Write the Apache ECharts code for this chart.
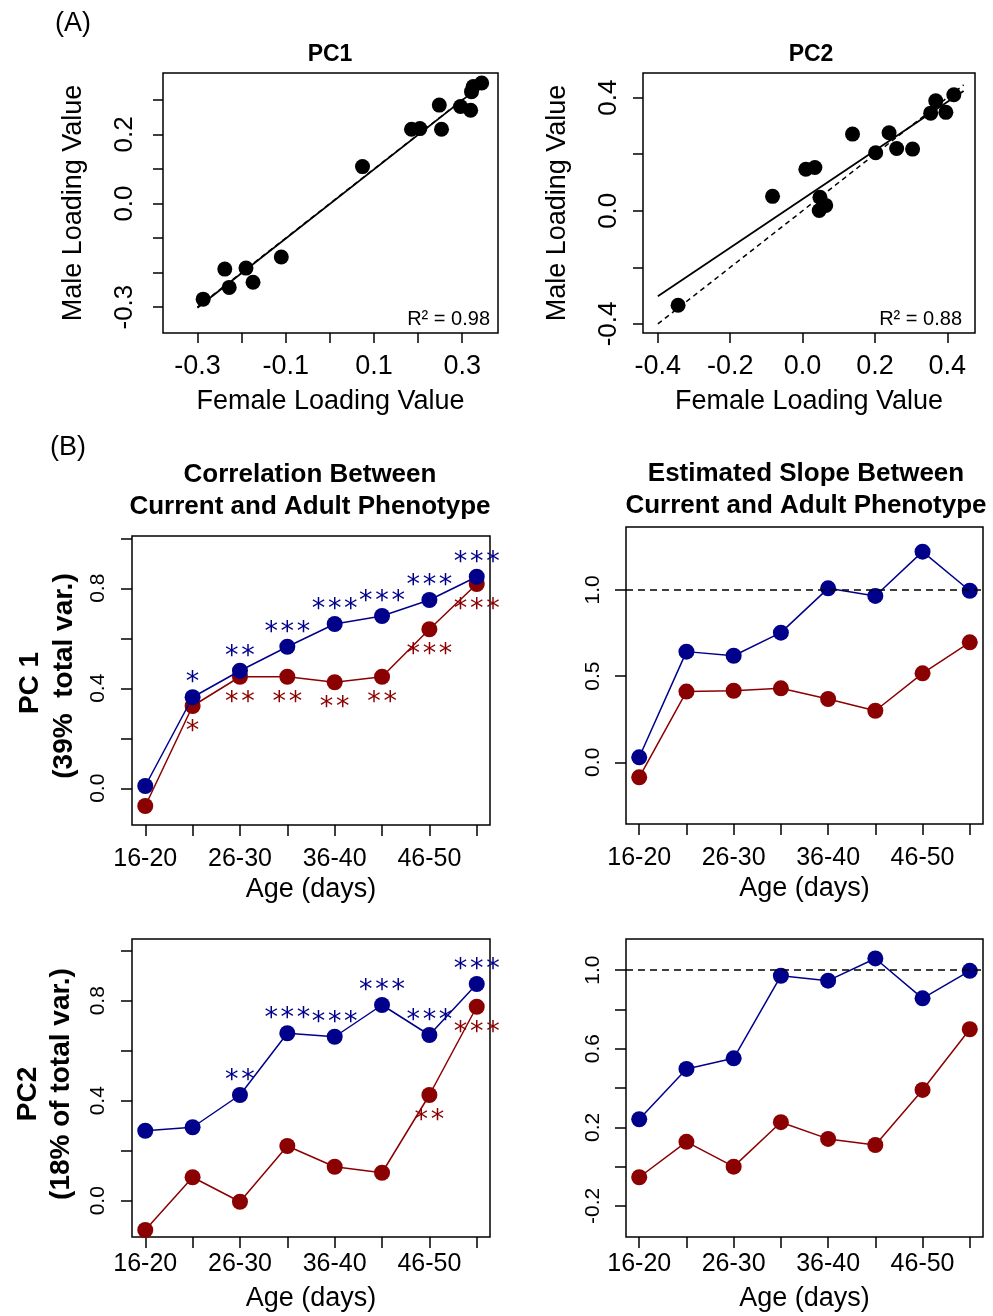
<!DOCTYPE html>
<html>
<head>
<meta charset="utf-8">
<script src="https://cdn.jsdelivr.net/npm/echarts@6/dist/echarts.min.js"></script>
<style>
  html, body { margin: 0; padding: 0; background: #fff; }
  #chart { width: 993px; height: 1316px; }
</style>
</head>
<body>
<div id="chart"></div>
<script>
// ---- (A) loadings: female (x) vs male (y) ----
const pc1Female = [-0.287, -0.238, -0.228, -0.190, -0.174, -0.110, 0.074, 0.185, 0.204, 0.248, 0.253, 0.296, 0.319, 0.321, 0.325, 0.344];
const pc1Male   = [-0.277, -0.190, -0.243, -0.187, -0.228, -0.155, 0.107, 0.215, 0.217, 0.285, 0.215, 0.281, 0.270, 0.324, 0.339, 0.349];
const pc2Female = [-0.344, -0.083, 0.009, 0.034, 0.048, 0.064, 0.046, 0.138, 0.202, 0.239, 0.260, 0.304, 0.354, 0.368, 0.396, 0.418];
const pc2Male   = [-0.334, 0.051, 0.147, 0.153, 0.048, 0.019, 0.001, 0.271, 0.205, 0.276, 0.220, 0.218, 0.345, 0.389, 0.348, 0.410];
const pc1R2 = '0.98';
const pc2R2 = '0.88';
const pc1LineRange = [-0.30, 0.34];
const pc2LineRange = [-0.40, 0.445];
const pc1Ticks = [-0.3, -0.2, -0.1, 0.0, 0.1, 0.2, 0.3];
const pc1XLabels = [-0.3, -0.1, 0.1, 0.3];
const pc1YLabels = [-0.3, 0.0, 0.2];
const pc2Ticks = [-0.4, -0.2, 0.0, 0.2, 0.4];
const pc2YLabels = [-0.4, 0.0, 0.4];

// ---- (B) age classes ----
const ageLabels = ['16-20', '21-25', '26-30', '31-35', '36-40', '41-45', '46-50', '51-55'];
const agePos = [1, 2, 3, 4, 5, 6, 7, 8];
const ageLabelPos = [1, 3, 5, 7];

const corrPC1Blue  = [0.009, 0.364, 0.470, 0.566, 0.657, 0.689, 0.753, 0.846];
const corrPC1Red   = [-0.071, 0.329, 0.446, 0.446, 0.424, 0.446, 0.636, 0.817];
const slopePC1Blue = [0.029, 0.642, 0.618, 0.752, 1.009, 0.965, 1.222, 0.995];
const slopePC1Red  = [-0.087, 0.410, 0.415, 0.429, 0.367, 0.299, 0.516, 0.696];
const corrPC2Blue  = [0.280, 0.294, 0.423, 0.670, 0.656, 0.783, 0.663, 0.867];
const corrPC2Red   = [-0.117, 0.094, -0.004, 0.219, 0.136, 0.112, 0.423, 0.776];
const slopePC2Blue = [0.241, 0.497, 0.551, 0.971, 0.946, 1.059, 0.856, 0.996];
const slopePC2Red  = [-0.054, 0.126, 0.000, 0.226, 0.141, 0.110, 0.390, 0.699];

const corrPC1BlueStars = ['', '*', '**', '***', '***', '***', '***', '***'];
const corrPC1RedStars  = ['', '*', '**', '**', '**', '**', '***', '***'];
const corrPC2BlueStars = ['', '', '**', '***', '***', '***', '***', '***'];
const corrPC2RedStars  = ['', '', '', '', '', '', '**', '***'];

const corrTicks = [0.0, 0.2, 0.4, 0.6, 0.8, 1.0];
const corrLabels = [0.0, 0.4, 0.8];
const slopePC1Ticks = [0.0, 0.5, 1.0];
const slopePC2Ticks = [-0.2, 0.0, 0.2, 0.4, 0.6, 0.8, 1.0];
const slopePC2Labels = [-0.2, 0.2, 0.6, 1.0];

// ---- styling ----
const FONT = '"Liberation Sans", Arial, sans-serif';
const BLUE = '#00008B';
const RED = '#8B0000';
const INK = '#000';

function olsLine(xs, ys, range) {
  const n = xs.length;
  const mx = xs.reduce((a, b) => a + b, 0) / n;
  const my = ys.reduce((a, b) => a + b, 0) / n;
  let sxy = 0, sxx = 0;
  for (let i = 0; i < n; i++) { sxy += (xs[i] - mx) * (ys[i] - my); sxx += (xs[i] - mx) ** 2; }
  const b = sxy / sxx, a = my - b * mx;
  return range.map(x => [x, a + b * x]);
}

const fmt1 = v => (Math.abs(v) < 1e-9 ? 0 : v).toFixed(1);
// significance stars, set slightly apart with hair spaces
const spaced = s => s.split('').join('\u200A');

function axis(o) {
  return {
    type: 'value', gridIndex: o.grid, min: o.min, max: o.max,
    axisLine: { show: false, onZero: false }, splitLine: { show: false },
    axisTick: { show: true, inside: false, length: o.tickLen, lineStyle: { color: INK, width: 1.5 }, customValues: o.ticks },
    axisLabel: {
      customValues: o.labels, formatter: o.formatter || fmt1, rotate: o.rotate || 0,
      fontFamily: FONT, fontSize: o.labelSize, color: INK, margin: o.margin
    },
    name: o.name || '', nameLocation: 'middle', nameGap: o.nameGap,
    nameTextStyle: { fontFamily: FONT, fontSize: o.nameSize, color: INK }
  };
}

const grids = [
  { left: 163, top: 73, width: 335, height: 260 },
  { left: 643, top: 73, width: 332, height: 260 },
  { left: 132, top: 536, width: 358, height: 289 },
  { left: 626, top: 527, width: 357, height: 297 },
  { left: 132, top: 939, width: 358, height: 298 },
  { left: 626, top: 939, width: 357, height: 298 }
].map(g => Object.assign({ show: true, borderColor: INK, borderWidth: 1.5, backgroundColor: 'transparent' }, g));

const ageFmt = v => ageLabels[Math.round(v) - 1];

const xAxes = [
  axis({ grid: 0, min: -0.378, max: 0.381, ticks: pc1Ticks, labels: pc1XLabels, tickLen: 10, labelSize: 27, margin: 20,
         name: 'Female Loading Value', nameGap: 55, nameSize: 27 }),
  axis({ grid: 1, min: -0.441, max: 0.4765, ticks: pc2Ticks, labels: pc2Ticks, tickLen: 10, labelSize: 27, margin: 20,
         name: 'Female Loading Value', nameGap: 55, nameSize: 27 }),
  axis({ grid: 2, min: 0.72, max: 8.28, ticks: agePos, labels: ageLabelPos, formatter: ageFmt, tickLen: 11, labelSize: 25, margin: 22,
         name: 'Age (days)', nameGap: 51, nameSize: 27 }),
  axis({ grid: 3, min: 0.72, max: 8.28, ticks: agePos, labels: ageLabelPos, formatter: ageFmt, tickLen: 11, labelSize: 25, margin: 22,
         name: 'Age (days)', nameGap: 51, nameSize: 27 }),
  axis({ grid: 4, min: 0.72, max: 8.28, ticks: agePos, labels: ageLabelPos, formatter: ageFmt, tickLen: 11, labelSize: 25, margin: 15,
         name: 'Age (days)', nameGap: 48, nameSize: 27 }),
  axis({ grid: 5, min: 0.72, max: 8.28, ticks: agePos, labels: ageLabelPos, formatter: ageFmt, tickLen: 11, labelSize: 25, margin: 15,
         name: 'Age (days)', nameGap: 48, nameSize: 27 })
];

const yAxes = [
  axis({ grid: 0, min: -0.375, max: 0.378, ticks: pc1Ticks, labels: pc1YLabels, rotate: 90, tickLen: 10, labelSize: 26, margin: 25,
         name: 'Male Loading Value', nameGap: 76, nameSize: 27 }),
  axis({ grid: 1, min: -0.432, max: 0.487, ticks: pc2Ticks, labels: pc2YLabels, rotate: 90, tickLen: 10, labelSize: 26, margin: 21,
         name: 'Male Loading Value', nameGap: 72, nameSize: 27 }),
  axis({ grid: 2, min: -0.147, max: 1.009, ticks: corrTicks, labels: corrLabels, rotate: 90, tickLen: 11, labelSize: 21, margin: 23 }),
  axis({ grid: 3, min: -0.358, max: 1.365, ticks: slopePC1Ticks, labels: slopePC1Ticks, rotate: 90, tickLen: 11, labelSize: 21, margin: 22 }),
  axis({ grid: 4, min: -0.145, max: 1.047, ticks: corrTicks, labels: corrLabels, rotate: 90, tickLen: 11, labelSize: 21, margin: 23 }),
  axis({ grid: 5, min: -0.358, max: 1.158, ticks: slopePC2Ticks, labels: slopePC2Labels, rotate: 90, tickLen: 11, labelSize: 21, margin: 22 })
];

function scatterSeries(idx, xs, ys) {
  return {
    type: 'scatter', xAxisIndex: idx, yAxisIndex: idx, symbolSize: 15,
    itemStyle: { color: INK, opacity: 1 }, z: 3,
    data: xs.map((x, i) => [x, ys[i]])
  };
}
function refLine(idx, pts, dashed) {
  return {
    type: 'line', xAxisIndex: idx, yAxisIndex: idx, showSymbol: false, silent: true, z: 2,
    lineStyle: { color: INK, width: dashed ? 1.5 : 1.8, type: dashed ? [5, 4] : 'solid' },
    data: pts
  };
}

function trendSeries(idx, values, color, stars, above, refOne) {
  const s = {
    type: 'line', xAxisIndex: idx, yAxisIndex: idx,
    symbol: 'circle', symbolSize: 16, z: above ? 4 : 3,
    itemStyle: { color: color, opacity: 1 },
    lineStyle: { color: color, width: 1.5 },
    data: values.map((v, i) => [agePos[i], v])
  };
  if (stars) {
    s.label = {
      show: true, position: 'inside', offset: [0, above ? -14 : 26],
      formatter: p => spaced(stars[p.dataIndex]),
      fontFamily: '"DejaVu Sans", sans-serif', fontSize: 27, color: color
    };
  }
  if (refOne) {
    s.markLine = {
      silent: true, symbol: 'none', label: { show: false },
      lineStyle: { color: INK, width: 1.5, type: [7, 5] },
      data: [{ yAxis: 1 }]
    };
  }
  return s;
}

const series = [
  refLine(0, pc1LineRange.map(x => [x, x]), true),
  refLine(0, olsLine(pc1Female, pc1Male, pc1LineRange), false),
  scatterSeries(0, pc1Female, pc1Male),
  refLine(1, pc2LineRange.map(x => [x, x]), true),
  refLine(1, olsLine(pc2Female, pc2Male, pc2LineRange), false),
  scatterSeries(1, pc2Female, pc2Male),

  trendSeries(2, corrPC1Red, RED, corrPC1RedStars, false),
  trendSeries(2, corrPC1Blue, BLUE, corrPC1BlueStars, true),
  trendSeries(3, slopePC1Red, RED, null, false),
  trendSeries(3, slopePC1Blue, BLUE, null, true, true),
  trendSeries(4, corrPC2Red, RED, corrPC2RedStars, false),
  trendSeries(4, corrPC2Blue, BLUE, corrPC2BlueStars, true),
  trendSeries(5, slopePC2Red, RED, null, false),
  trendSeries(5, slopePC2Blue, BLUE, null, true, true)
];

function txt(x, y, text, size, opts) {
  opts = opts || {};
  return {
    type: 'text', x: x, y: y, rotation: opts.rotate ? Math.PI / 2 : 0, silent: true,
    style: {
      text: text, fill: INK,
      font: (opts.bold ? 'bold ' : '') + size + 'px ' + FONT,
      align: opts.align || 'center', verticalAlign: 'middle',
      textAlign: opts.align || 'center', textVerticalAlign: 'middle',
      lineHeight: opts.lineHeight
    }
  };
}

const graphics = [
  txt(55, 24, '(A)', 27, { align: 'left' }),
  txt(50, 448, '(B)', 27, { align: 'left' }),
  txt(330, 55, 'PC1', 23, { bold: true }),
  txt(811, 55, 'PC2', 23, { bold: true }),
  txt(490, 319, 'R\u00B2 = ' + pc1R2, 20, { align: 'right' }),
  txt(962, 319, 'R\u00B2 = ' + pc2R2, 20, { align: 'right' }),
  txt(310, 491, 'Correlation Between\nCurrent and Adult Phenotype', 26, { bold: true, lineHeight: 32 }),
  txt(806, 490, 'Estimated Slope Between\nCurrent and Adult Phenotype', 26, { bold: true, lineHeight: 32 }),
  txt(30, 683, 'PC 1', 28, { bold: true, rotate: true }),
  txt(64, 676, '(39%  total var.)', 28, { bold: true, rotate: true }),
  txt(28, 1094, 'PC2', 28, { bold: true, rotate: true }),
  txt(61, 1084, '(18% of total var.)', 28, { bold: true, rotate: true })
];

const chart = echarts.init(document.getElementById('chart'), null, { renderer: 'canvas' });
chart.setOption({
  animation: false,
  backgroundColor: '#fff',
  grid: grids,
  xAxis: xAxes,
  yAxis: yAxes,
  series: series,
  graphic: graphics
});
</script>
</body>
</html>
